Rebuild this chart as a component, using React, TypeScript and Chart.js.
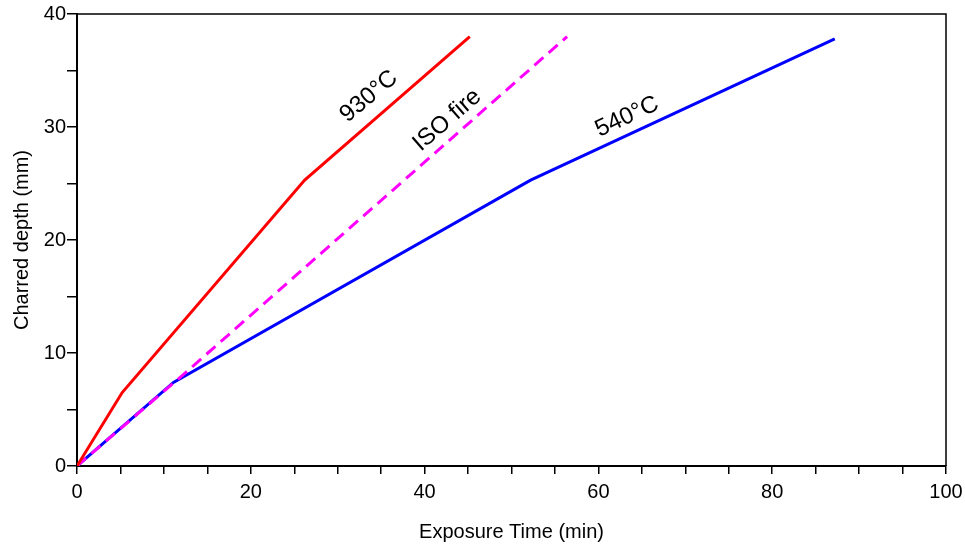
import React, { useEffect, useRef } from "react";
import { Chart, registerables } from "chart.js";
Chart.register(...registerables);

// Data
const red930X = [0, 5.2, 26.2, 45.2];
const red930Y = [0, 6.5, 25.3, 38.0];
const blue540X = [0, 11.1, 52.2, 87.2];
const blue540Y = [0, 7.4, 25.3, 37.8];
const isoX = [0, 12.4, 56.4];
const isoY = [0, 8.2, 38.0];
const xMajorTicks = [0, 20, 40, 60, 80, 100];
const yMajorTicks = [0, 10, 20, 30, 40];
const curveLabels = ["930°C", "ISO fire", "540°C"];
const curveLabelX = [33.6, 42.6, 63.3];
const curveLabelY = [32.7, 30.6, 30.9];
const curveLabelAngle = [-40, -41, -25];

const toPts = (xs: number[], ys: number[]) => xs.map((x, i) => ({ x, y: ys[i] }));

const labelPlugin = {
  id: "curveLabels",
  afterDatasetsDraw(chart: any) {
    const { ctx, scales } = chart;
    ctx.save();
    ctx.fillStyle = "#000";
    ctx.font = "24px Arial, 'Liberation Sans', sans-serif";
    ctx.textAlign = "center";
    ctx.textBaseline = "middle";
    curveLabels.forEach((t, i) => {
      const px = scales.x.getPixelForValue(curveLabelX[i]);
      const py = scales.y.getPixelForValue(curveLabelY[i]);
      ctx.save();
      ctx.translate(px, py);
      ctx.rotate((curveLabelAngle[i] * Math.PI) / 180);
      ctx.fillText(t, 0, 0);
      ctx.restore();
    });
    ctx.restore();
  },
};

const framePlugin = {
  id: "frame",
  afterDraw(chart: any) {
    const { ctx, chartArea } = chart;
    ctx.save();
    ctx.strokeStyle = "#000";
    ctx.lineWidth = 1.5;
    ctx.beginPath();
    ctx.moveTo(chartArea.left, chartArea.top);
    ctx.lineTo(chartArea.right, chartArea.top);
    ctx.lineTo(chartArea.right, chartArea.bottom);
    ctx.stroke();
    ctx.restore();
  },
};

export default function App() {
  const ref = useRef<HTMLCanvasElement | null>(null);
  useEffect(() => {
    document.body.style.margin = "0";
    const font = "Arial, 'Liberation Sans', sans-serif";
    const chart = new Chart(ref.current!, {
      type: "line",
      data: {
        datasets: [
          {
            label: "930°C",
            data: toPts(red930X, red930Y),
            borderColor: "#ff0000",
            borderWidth: 3,
            pointRadius: 0,
            fill: false,
          },
          {
            label: "ISO fire",
            data: toPts(isoX, isoY),
            borderColor: "#ff00ff",
            borderWidth: 3,
            borderDash: [12, 7],
            pointRadius: 0,
            fill: false,
          },
          {
            label: "540°C",
            data: toPts(blue540X, blue540Y),
            borderColor: "#0000ff",
            borderWidth: 3,
            pointRadius: 0,
            fill: false,
          },
        ],
      },
      options: {
        animation: false,
        responsive: false,
        layout: { padding: { top: 14, right: 19, left: 0, bottom: 0 } },
        plugins: { legend: { display: false }, tooltip: { enabled: false } },
        scales: {
          x: {
            type: "linear",
            min: 0,
            max: 100,
            afterFit: (s: any) => {
              s.height = 78;
              s.paddingLeft = 0;
              s.paddingRight = 0;
            },
            ticks: {
              stepSize: 5,
              autoSkip: false,
              maxRotation: 0,
              padding: 6,
              color: "#000",
              font: { family: font, size: 20 },
              callback: (v: any) => (xMajorTicks.includes(Number(v)) ? String(v) : ""),
            },
            grid: { drawOnChartArea: false, drawTicks: true, tickLength: 8, color: "#000", lineWidth: 1.5 },
            border: { color: "#000", width: 2 },
            title: {
              display: true,
              text: "Exposure Time (min)",
              color: "#000",
              font: { family: font, size: 20 },
              padding: { top: 9, bottom: 0 },
            },
          },
          y: {
            type: "linear",
            min: 0,
            max: 40,
            afterFit: (s: any) => {
              s.width = 77;
              s.paddingTop = 0;
              s.paddingBottom = 0;
            },
            ticks: {
              stepSize: 5,
              autoSkip: false,
              padding: 1,
              color: "#000",
              font: { family: font, size: 20 },
              callback: (v: any) => (yMajorTicks.includes(Number(v)) ? String(v) : ""),
            },
            grid: { drawOnChartArea: false, drawTicks: true, tickLength: 10, color: "#000", lineWidth: 1.5 },
            border: { color: "#000", width: 2 },
            title: {
              display: true,
              text: "Charred depth (mm)",
              color: "#000",
              font: { family: font, size: 20 },
              padding: { top: 10, bottom: 0 },
            },
          },
        },
      },
      plugins: [labelPlugin, framePlugin],
    });
    return () => chart.destroy();
  }, []);
  return <canvas ref={ref} width={965} height={544} style={{ display: "block" }} />;
}
